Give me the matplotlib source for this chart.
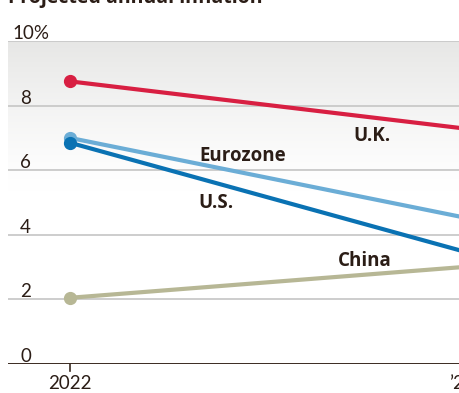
import numpy as np
import matplotlib
matplotlib.use("Agg")
import matplotlib.pyplot as plt

# Projected annual inflation, %
years = [2022, 2023]
uk = [8.75, 7.3]
eurozone = [7.0, 4.55]
us = [6.85, 3.5]
china = [2.05, 3.0]

series_names = ["China", "U.K.", "Eurozone", "U.S."]
series_values = [china, uk, eurozone, us]
series_colors = ["#b7b795", "#d81f42", "#6badd6", "#0a72b3"]

y_ticks = [0, 2, 4, 6, 8, 10]
x_tick_labels = ["2022", "\u201923"]

W, H = 460, 393
fig = plt.figure(figsize=(W / 100, H / 100), dpi=100)

# axes geometry in pixels
x_left_px, x_right_px = 8, 480
y_top_px, y_bot_px = 41, 364
px_per_year = 392
x0_px = 70
ax = fig.add_axes([x_left_px / W, (H - y_bot_px) / H,
                   (x_right_px - x_left_px) / W, (y_bot_px - y_top_px) / H])
ax.set_xlim(2022 - (x0_px - x_left_px) / px_per_year,
            2022 + (x_right_px - x0_px) / px_per_year)
ax.set_ylim(0, 10)
for s in ax.spines.values():
    s.set_visible(False)
ax.set_xticks([])
ax.set_yticks([])

# gray haze at the top of the plot area fading to white
grad = np.linspace(0, 10, 512).reshape(-1, 1)
cvals = np.clip((grad - 5.3) / (10 - 5.3), 0, 1) ** 1.3
cmap = matplotlib.colors.LinearSegmentedColormap.from_list(
    "haze", [(1, 1, 1), (0.905, 0.905, 0.9)])
ax.imshow(cvals, cmap=cmap, aspect="auto", extent=[*ax.get_xlim(), 0, 10],
          origin="lower", zorder=0, vmin=0, vmax=1)

text_color = "#2b1d16"
tick_font = dict(family=["Lato", "DejaVu Sans"], fontsize=13.5, fontweight="normal",
                 color=text_color)

# gridlines and y labels
for v in y_ticks[1:]:
    ax.axhline(v, color="#c9c9c9", lw=1.3, zorder=1)
ax.axhline(0, color="#3a2a20", lw=1.4, zorder=5)
for v in y_ticks:
    if v == 10:
        ax.annotate(f"{v}%", xy=(0, v), xycoords=("axes fraction", "data"),
                    xytext=(4, 2), textcoords="offset pixels",
                    ha="left", va="baseline", **tick_font)
    else:
        ax.annotate(f"{v}", xy=(0, v), xycoords=("axes fraction", "data"),
                    xytext=(23, 2), textcoords="offset pixels",
                    ha="right", va="baseline", **tick_font)

# x ticks
for yr, lab in zip(years, x_tick_labels):
    ax.plot([yr, yr], [0, -0.22], color="#3a2a20", lw=1.2, clip_on=False, zorder=5)
    ax.annotate(lab, xy=(yr, 0), xycoords="data", xytext=(0, -11),
                textcoords="offset pixels", ha="center", va="top",
                annotation_clip=False, **tick_font)

# series
for name, vals, col in zip(series_names, series_values, series_colors):
    ax.plot(years, vals, color=col, lw=3.0, solid_capstyle="butt", zorder=3)
    ax.plot(years[0], vals[0], "o", color=col, ms=8.5, zorder=4)

# direct labels
label_font = dict(family=["Open Sans", "DejaVu Sans"], fontsize=13.5, fontweight="bold",
                  color=text_color, zorder=6)
label_pos = {"U.K.": (2022.77, 7.06), "Eurozone": (2022.44, 6.45),
             "U.S.": (2022.373, 4.97), "China": (2022.753, 3.19)}
for name, (lx, ly) in label_pos.items():
    ax.text(lx, ly, name, ha="center", va="center", **label_font)

fig.text(8 / W, 1 - 3 / H, "Projected annual inflation", ha="left", va="baseline",
         family=["Open Sans", "DejaVu Sans"], fontsize=14, fontweight="bold",
         color=text_color)

fig.savefig("out.png", dpi=100)
